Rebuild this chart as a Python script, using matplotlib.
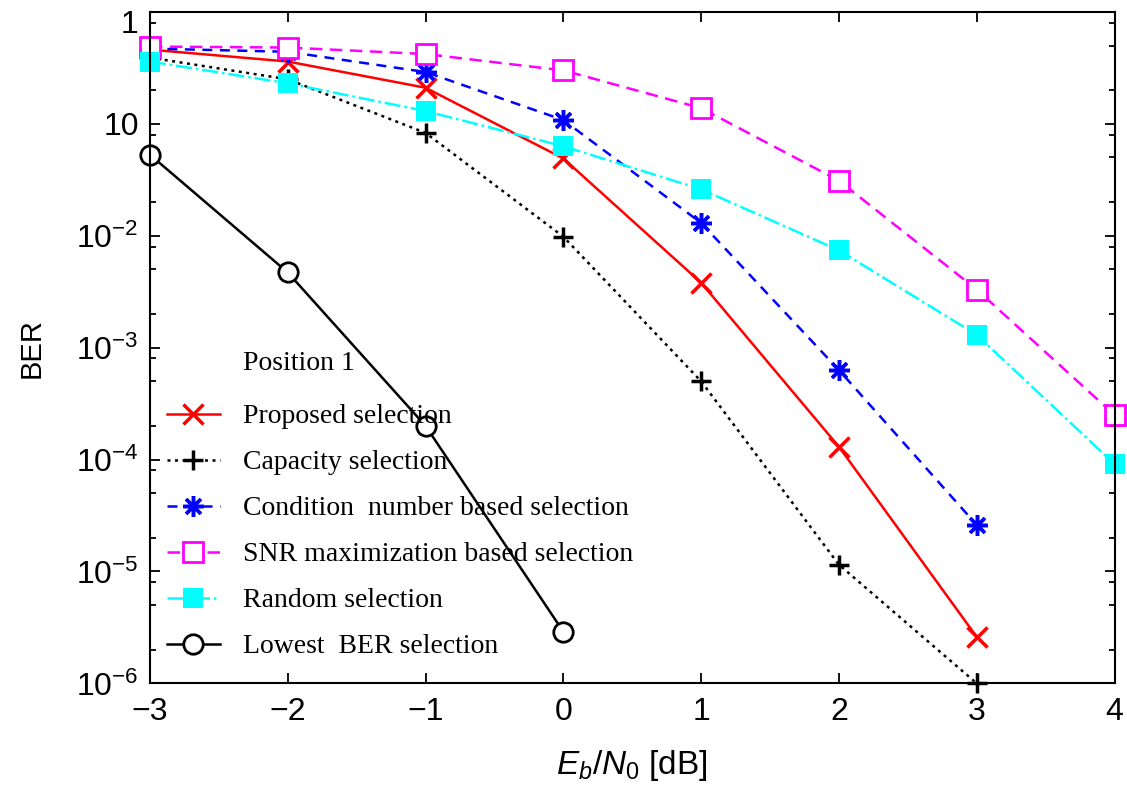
import numpy as np
import matplotlib
matplotlib.use("Agg")
import matplotlib.pyplot as plt
import matplotlib.transforms as mtransforms
from matplotlib.ticker import FixedLocator, LogLocator, NullFormatter

plt.rcParams['font.family'] = ['Liberation Sans', 'DejaVu Sans']
plt.rcParams['mathtext.fontset'] = 'custom'
plt.rcParams['mathtext.rm'] = 'Liberation Sans'
plt.rcParams['mathtext.it'] = 'Liberation Sans:italic'

# Eb/N0 values (dB)
snr = [-3, -2, -1, 0, 1, 2, 3, 4]

# BER
proposed = [0.46, 0.36, 0.21, 0.049, 3.8e-3, 1.3e-4, 2.6e-6]
capacity = [0.39, 0.25, 0.083, 9.8e-3, 5.0e-4, 1.15e-5, 1.0e-6]
condition = [0.47, 0.44, 0.29, 0.108, 0.013, 6.3e-4, 2.6e-5]
snr_max = [0.49, 0.48, 0.42, 0.30, 0.138, 0.031, 3.3e-3, 2.5e-4]
random_sel = [0.36, 0.23, 0.13, 0.063, 0.026, 7.4e-3, 1.3e-3, 9.1e-5]
lowest = [0.053, 4.7e-3, 2.0e-4, 2.9e-6]

labels = ['Proposed selection', 'Capacity selection',
          'Condition  number based selection', 'SNR maximization based selection',
          'Random selection', 'Lowest  BER selection']

ytick_vals = [1, 1e-1, 1e-2, 1e-3, 1e-4, 1e-5, 1e-6]
ytick_labels = ['1', '10', '$10^{-2}$', '$10^{-3}$', '$10^{-4}$', '$10^{-5}$', '$10^{-6}$']
xtick_labels = ['\u22123', '\u22122', '\u22121', '0', '1', '2', '3', '4']

fig = plt.figure(figsize=(11.27, 7.91), dpi=100)
ax = fig.add_axes([0.133, 0.136, 0.856, 0.849])

lw = 1.8
kw = dict(lw=lw, clip_on=False)
ax.plot(snr[:7], proposed, color='red', ls='-', marker='x', ms=14, mew=2.5,
        label=labels[0], **kw)
ax.plot(snr[:7], capacity, color='black', ls=(0, (1.2, 1.8)), marker='+', ms=14, mew=2.5,
        label=labels[1], **kw)
ax.plot(snr[:7], condition, color='blue', ls=(0, (4, 3)), marker=(8, 2, 0), ms=15, mew=2.5,
        label=labels[2], **kw)
ax.plot(snr, snr_max, color='magenta', ls=(0, (5, 3)), marker='s', ms=14, mew=2,
        mfc='white', label=labels[3], **kw)
ax.plot(snr, random_sel, color='cyan', ls='-.', marker='s', ms=15, mew=0,
        label=labels[4], **kw)
ax.plot(snr[:4], lowest, color='black', ls='-', marker='o', ms=14, mew=2,
        mfc='white', label=labels[5], **kw)

ax.set_yscale('log')
ax.set_ylim(1e-6, 1)
ax.set_xlim(-3, 4)
ax.yaxis.set_major_locator(FixedLocator(ytick_vals))
ax.set_yticklabels(ytick_labels)
ax.yaxis.set_minor_locator(LogLocator(base=10, subs=[2, 5, 8]))
ax.yaxis.set_minor_formatter(NullFormatter())
ax.set_xticks(snr)
ax.set_xticklabels(xtick_labels)

ax.tick_params(which='both', direction='in', top=True, right=True, labelsize=23, width=1.3)
ax.tick_params(which='major', length=7)
ax.tick_params(which='minor', length=4)
ax.tick_params(axis='x', pad=10)
ax.tick_params(axis='y', pad=8)
for s in ax.spines.values():
    s.set_linewidth(1.5)

# the "1" label sits a bit below the top tick in the original
top_lbl = ax.get_yticklabels()[0]
top_lbl.set_transform(top_lbl.get_transform() +
                      mtransforms.ScaledTranslation(0, -7 / 72, fig.dpi_scale_trans))

ax.set_xlabel('$E_b/N_0$ [dB]', fontsize=24, labelpad=15)
ax.set_ylabel('BER', fontsize=21, labelpad=22)

leg = ax.legend(loc='lower left', bbox_to_anchor=(0.0176, 0.036), frameon=False,
                prop={'family': 'Liberation Serif', 'size': 20},
                handlelength=1.9, handletextpad=0.83, labelspacing=0.74,
                borderpad=0, borderaxespad=0)
ax.text(0.0964, 0.477, 'Position 1', transform=ax.transAxes, fontsize=20,
        family='Liberation Serif', va='center', ha='left')

fig.savefig('out.png', dpi=100)
